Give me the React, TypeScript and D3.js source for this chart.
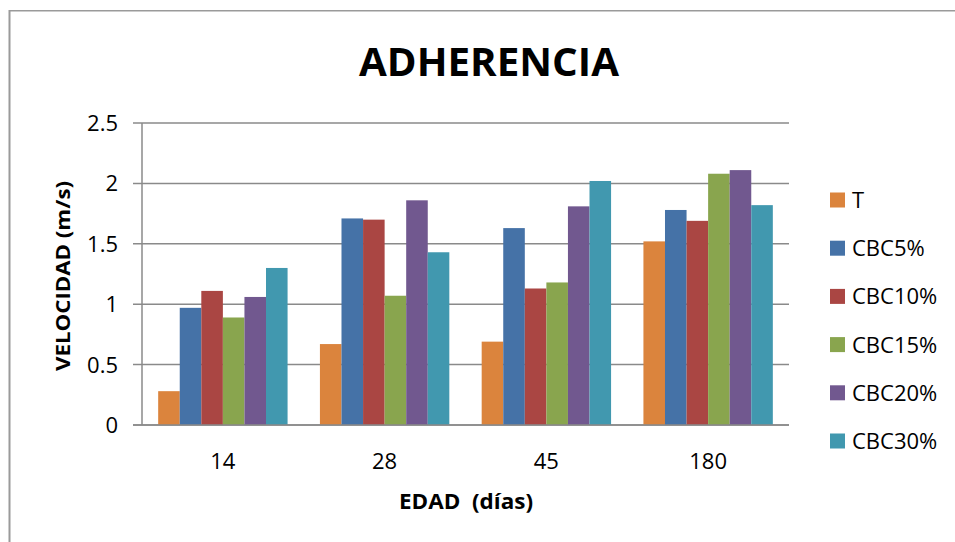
import React from "react";
import * as d3 from "d3";

const categories = ["14", "28", "45", "180"];
const seriesNames = ["T", "CBC5%", "CBC10%", "CBC15%", "CBC20%", "CBC30%"];
const T = [0.28, 0.67, 0.69, 1.52];
const CBC5 = [0.97, 1.71, 1.63, 1.78];
const CBC10 = [1.11, 1.7, 1.13, 1.69];
const CBC15 = [0.89, 1.07, 1.18, 2.08];
const CBC20 = [1.06, 1.86, 1.81, 2.11];
const CBC30 = [1.3, 1.43, 2.02, 1.82];
const seriesValues = [T, CBC5, CBC10, CBC15, CBC20, CBC30];
const colors = ["#DB843D", "#4572A7", "#AA4643", "#89A54E", "#71588F", "#4198AF"];
const yTicks = [0, 0.5, 1, 1.5, 2, 2.5];
const yTickLabels = ["0", "0.5", "1", "1.5", "2", "2.5"];

const W = 955;
const H = 542;
const FONT = "'Open Sans', 'Noto Sans', sans-serif";

export default function App() {
  const left = 142;
  const right = 789;
  const top = 123;
  const bottom = 425;
  const x0 = d3.scaleBand<string>().domain(categories).range([left, right]).paddingInner(0.2).paddingOuter(0.1);
  const x1 = d3.scaleBand<string>().domain(seriesNames).range([0, x0.bandwidth()]);
  const y = d3.scaleLinear().domain([0, 2.5]).range([bottom, top]);
  const gridColor = "#8a8a8a";

  return (
    <svg width={W} height={H} style={{ position: "absolute", left: 0, top: 0, display: "block" }} fontFamily={FONT}>
      <rect x={0} y={0} width={W} height={H} fill="#fff" />
      {/* frame */}
      <line x1={9.5} y1={10.8} x2={W} y2={10.8} stroke="#9a9a9a" strokeWidth={1.6} />
      <line x1={9.5} y1={10} x2={9.5} y2={H} stroke="#9a9a9a" strokeWidth={2} />

      {/* title */}
      <text x={489} y={76} textAnchor="middle" fontSize={40} fontWeight="bold" fill="#000" textLength={260} lengthAdjust="spacingAndGlyphs">ADHERENCIA</text>

      {/* gridlines + y ticks */}
      {yTicks.map((t, i) => (
        <g key={"g" + i}>
          <line x1={133} x2={right} y1={y(t)} y2={y(t)} stroke={gridColor} strokeWidth={1.5} />
          <text x={118} y={y(t) + 8} textAnchor="end" fontSize={22} fill="#000">{yTickLabels[i]}</text>
        </g>
      ))}
      <line x1={left} x2={left} y1={top} y2={bottom} stroke={gridColor} strokeWidth={1.5} />

      {/* bars */}
      {categories.map((c, ci) => (
        <g key={c} transform={`translate(${x0(c)},0)`}>
          {seriesNames.map((s, si) => {
            const v = seriesValues[si][ci];
            return (
              <rect
                key={s}
                x={x1(s)}
                y={y(v)}
                width={x1.bandwidth()}
                height={y(0) - y(v)}
                fill={colors[si]}
              />
            );
          })}
        </g>
      ))}
      <line x1={133} x2={right} y1={bottom} y2={bottom} stroke={gridColor} strokeWidth={1.5} />

      {/* x labels */}
      {categories.map((c) => (
        <text key={"xl" + c} x={(x0(c) as number) + x0.bandwidth() / 2} y={469} textAnchor="middle" fontSize={22} fill="#000">{c}</text>
      ))}
      <text x={466} y={509} textAnchor="middle" fontSize={21} fontWeight="bold" fill="#000" style={{ whiteSpace: "pre" }} xmlSpace="preserve" textLength={134} lengthAdjust="spacingAndGlyphs">{"EDAD  (días)"}</text>
      <text
        transform={`translate(70,276) rotate(-90)`}
        textAnchor="middle"
        fontSize={20}
        fontWeight="bold"
        fill="#000"
        textLength={190}
        lengthAdjust="spacingAndGlyphs"
      >VELOCIDAD (m/s)</text>

      {/* legend */}
      {seriesNames.map((s, i) => {
        const cy = 200 + i * 48.2;
        return (
          <g key={"lg" + s}>
            <rect x={830} y={cy - 7.5} width={15} height={15} fill={colors[i]} />
            <text x={852} y={cy + 8} fontSize={22} fill="#000">{s}</text>
          </g>
        );
      })}
    </svg>
  );
}
